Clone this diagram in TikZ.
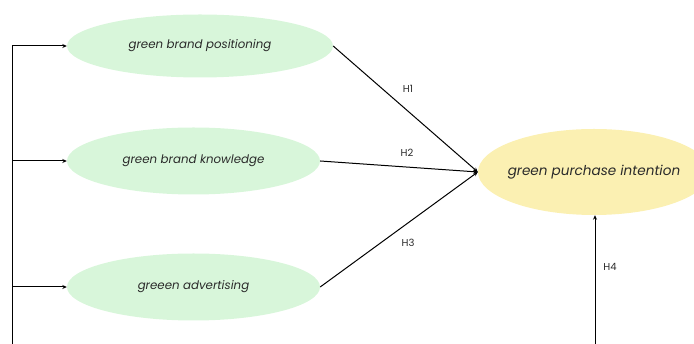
\documentclass[tikz,border=0pt]{standalone}
\usepackage{fontspec}
\setmainfont{Poppins}
\usetikzlibrary{arrows.meta,shapes.geometric}
\definecolor{leafgreen}{HTML}{D8F6DA}
\definecolor{butteryellow}{HTML}{FBF0B2}
\definecolor{inkgray}{HTML}{2A2A2A}

\begin{document}
\begin{tikzpicture}[
    x=1pt, y=-1pt,
    >={Stealth[length=4.5pt,width=4pt]},
    construct/.style={ellipse, inner sep=0pt, font=\itshape\fontsize{11.8}{13}\selectfont, text=inkgray},
    greenvar/.style={construct, fill=leafgreen},
    goalvar/.style={construct, fill=butteryellow, inner xsep=-10pt, font=\itshape\fontsize{13.6}{15}\selectfont},
    path/.style={->, line width=1pt, black},
    hyp/.style={font=\fontsize{10}{11}\selectfont, text=inkgray, inner sep=1pt}
  ]
  \useasboundingbox (0,0) rectangle (694,344);

  % Constructs
  \node[greenvar, minimum width=266, minimum height=63] (gbp) at (200,46) {green brand positioning};
  \node[greenvar, minimum width=253, minimum height=67] (gbk) at (193.5,161) {green brand knowledge};
  \node[greenvar, minimum width=253, minimum height=67] (gad) at (193.5,287) {greeen advertising};
  \node[goalvar, minimum width=232, minimum height=86] (gpi) at (594,172) {green purchase intention};

  % Left feed line
  \coordinate (lt) at (12,46);
  \coordinate (lb) at (12,344);
  \draw[line width=1pt] (lb) -- (lt);
  \draw[path] (lt) -- (gbp.west);
  \draw[path] (gbk.west -| lt) -- (gbk.west);
  \draw[path] (gad.west -| lt) -- (gad.west);

  % Hypotheses
  \draw[path] (gbp.east) -- (gpi.west);
  \draw[path] (gbk.east) -- (gpi.west);
  \draw[path] (gad.east) -- (gpi.west);
  \node[hyp] (h1) at (408,89) {H1};
  \node[hyp] (h2) at (407,153) {H2};
  \node[hyp] (h3) at (408,243) {H3};

  \coordinate (hb) at (595,344);
  \draw[path] (hb) -- (hb |- gpi.south);
  \node[hyp] (h4) at (610,267) {H4};
\end{tikzpicture}
\end{document}
